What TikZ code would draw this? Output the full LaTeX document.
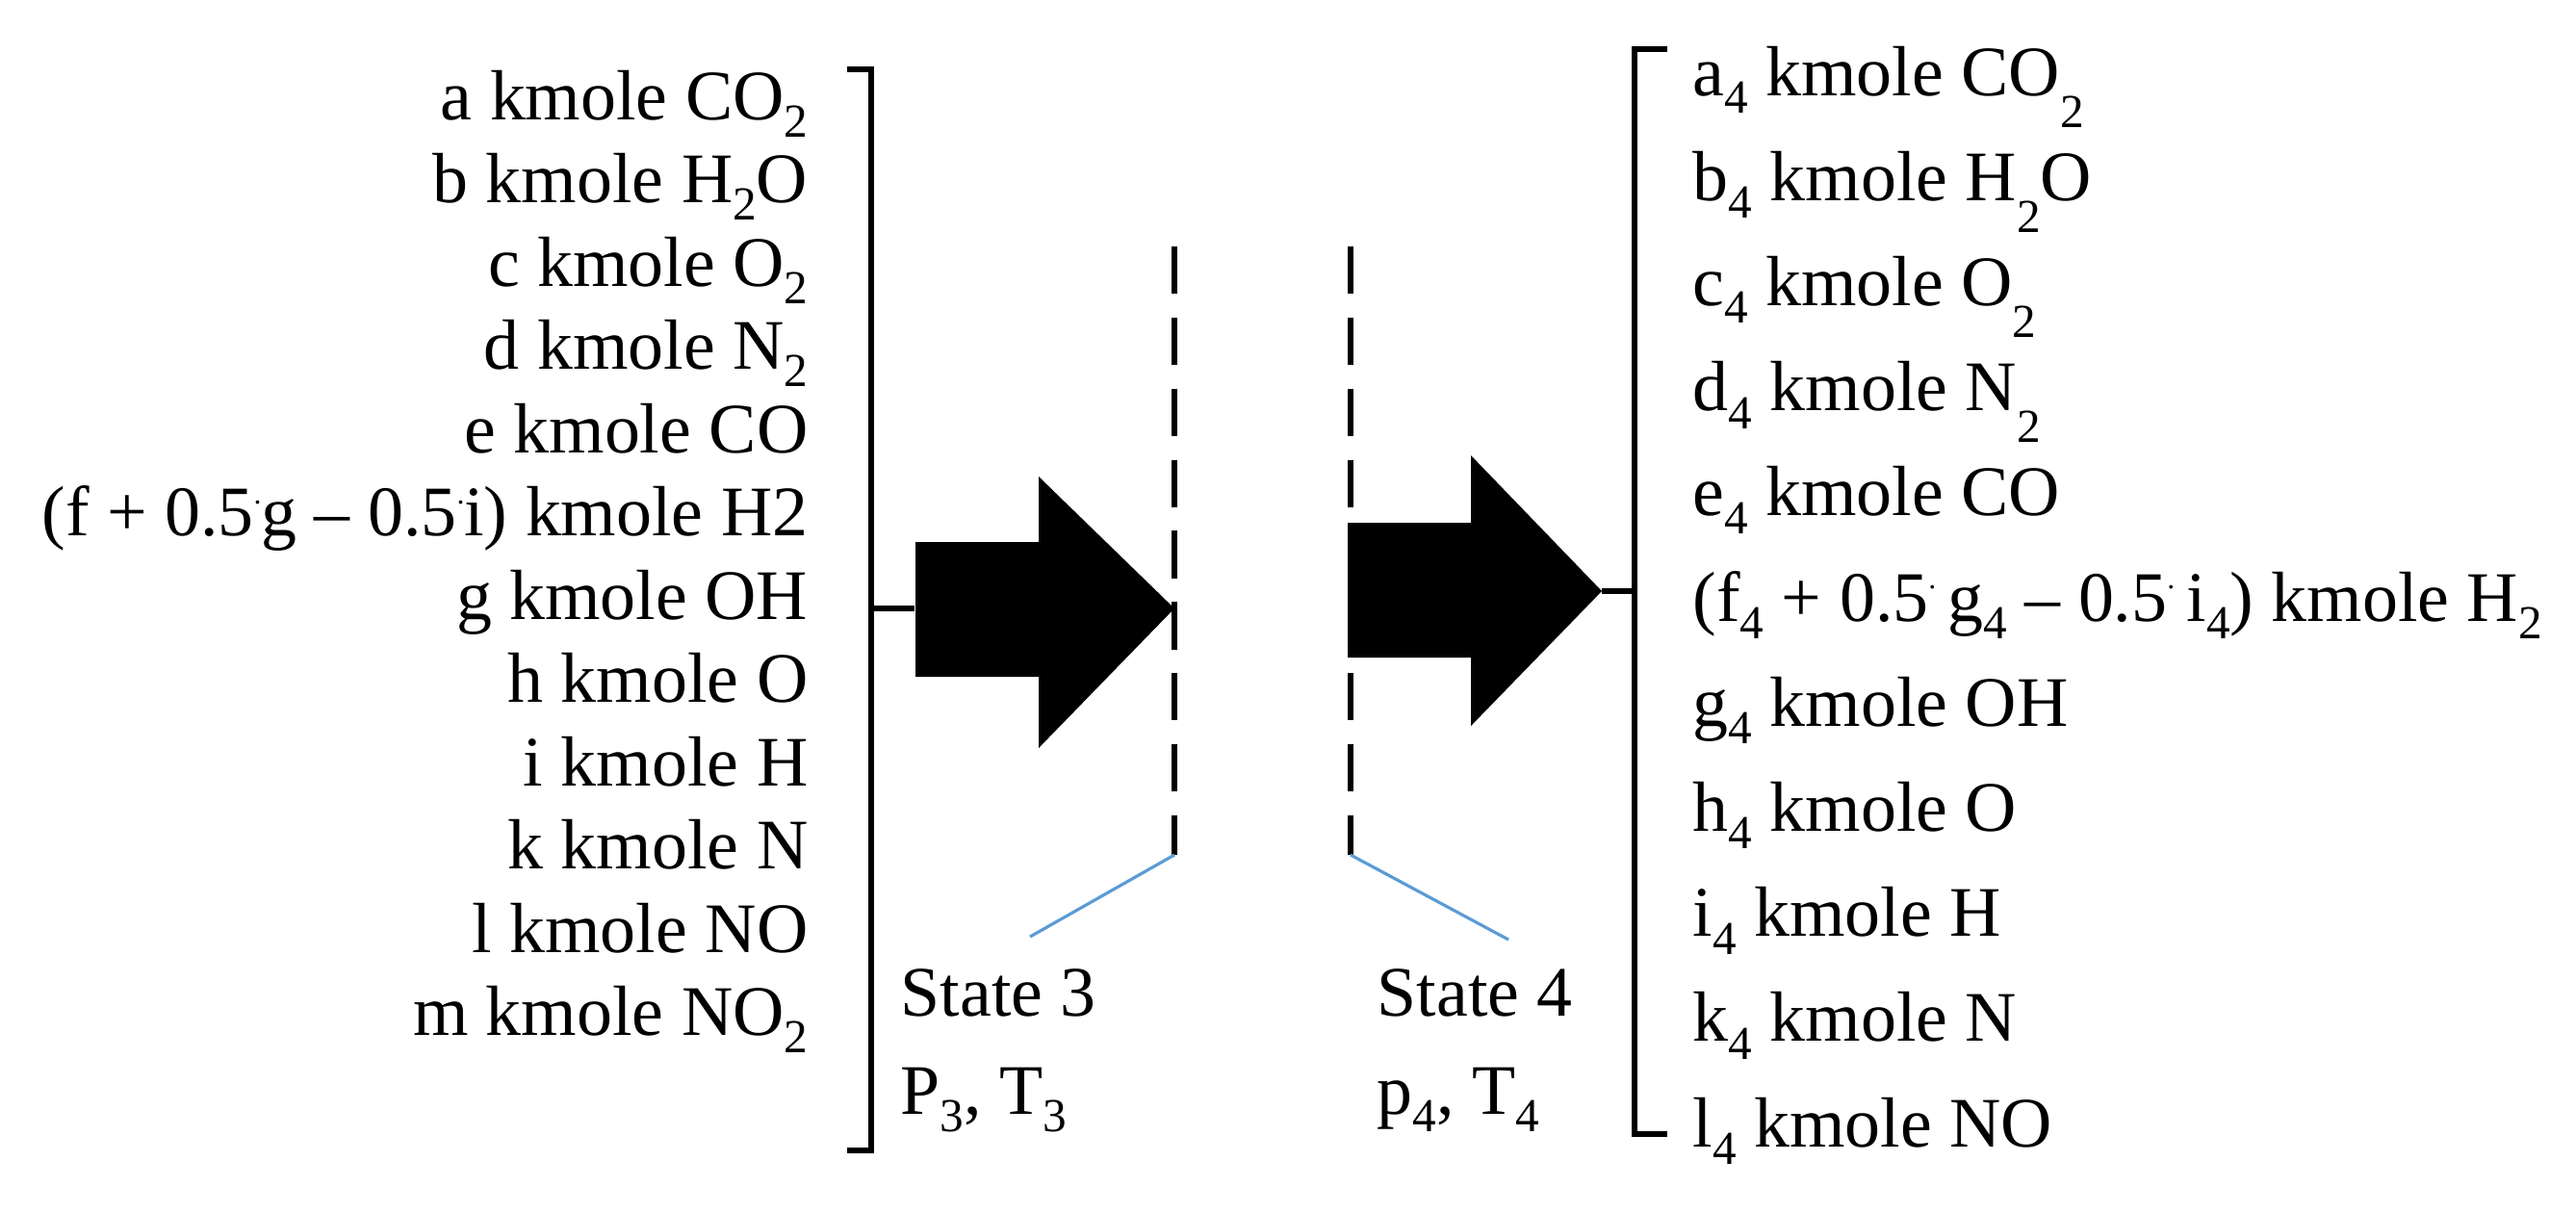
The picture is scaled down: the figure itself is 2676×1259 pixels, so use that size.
\documentclass[tikz,border=0pt]{standalone}
\usepackage{fontspec}
\setmainfont{Liberation Serif}
\newcommand\sbs[1]{\raisebox{-0.25em}{\fontsize{14}{14}\selectfont #1}}
\newcommand\sbl[1]{\raisebox{-0.45em}{\fontsize{14}{14}\selectfont #1}}
\newcommand\cdt{\raisebox{0.45em}{\fontsize{9}{9}\selectfont .}}
\begin{document}
\begin{tikzpicture}[x=0.01cm,y=-0.01cm,
  lbl/.style={font=\fontsize{21}{21}\selectfont,inner sep=0pt},
  brk/.style={line width=1.6pt},
  dsh/.style={line width=1.6pt,dash pattern=on 14pt off 7pt},
  blu/.style={draw={rgb,255:red,91;green,155;blue,213},line width=0.9pt}]
\useasboundingbox (0,0) rectangle (2676,1259);
% left list
\foreach \t [count=\i] in {a kmole CO\sbs{2},b kmole H\sbs{2}O,c kmole O\sbs{2},d kmole N\sbs{2},e kmole CO,(f + 0.5\cdt g -- 0.5\cdt i) kmole H2,g kmole OH,h kmole O,i kmole H,k kmole N,l kmole NO,m kmole NO\sbs{2}}
  \node[lbl,anchor=base east] (L\i) at (840,{102+(\i-1)*86.5+22}) {\t};
% right list
\foreach \t [count=\i] in {a\sbs{4} kmole CO\sbl{2},b\sbs{4} kmole H\sbl{2}O,c\sbs{4} kmole O\sbl{2},d\sbs{4} kmole N\sbl{2},e\sbs{4} kmole CO,(f\sbs{4} + 0.5\cdt\,g\sbs{4} -- 0.5\cdt\,i\sbs{4}) kmole H\sbs{2},g\sbs{4} kmole OH,h\sbs{4} kmole O,i\sbs{4} kmole H,k\sbs{4} kmole N,l\sbs{4} kmole NO}
  \node[lbl,anchor=base west] (R\i) at (1758,{77+(\i-1)*109.2+22}) {\t};
% left bracket
\draw[brk] (880,72) -- (905,72) -- (905,1195) -- (880,1195);
\coordinate (lb) at (905,632);
\draw[brk] (lb) -- (950,632);
% arrow 1
\fill (951,563) -- (1079,563) -- (1079,495) -- (1220,632) -- (1079,777) -- (1079,703) -- (951,703) -- cycle;
\coordinate (d1t) at (1220,256); \coordinate (d1b) at (1220,888);
\draw[dsh] (d1t) -- (d1b);
\coordinate (b1) at (1070,973);
\draw[blu] (d1b) -- (b1);
\node[lbl,anchor=base west] (s3) at (935,1055) {State 3};
\node[lbl,anchor=base west] (p3) at (935,1157) {P\sbs{3}, T\sbs{3}};
% arrow 2
\coordinate (d2t) at (1403,256); \coordinate (d2b) at (1403,888);
\draw[dsh] (d2t) -- (d2b);
\coordinate (b2) at (1567,976);
\draw[blu] (d2b) -- (b2);
\fill (1400,543) -- (1528,543) -- (1528,473) -- (1664,614) -- (1528,754) -- (1528,683) -- (1400,683) -- cycle;
\node[lbl,anchor=base west] (s4) at (1430,1055) {State 4};
\node[lbl,anchor=base west] (p4) at (1430,1157) {p\sbs{4}, T\sbs{4}};
% right bracket
\draw[brk] (1732,51) -- (1698,51) -- (1698,1178) -- (1732,1178);
\draw[brk] (1664,614) -- (1698,614);
\end{tikzpicture}
\end{document}
